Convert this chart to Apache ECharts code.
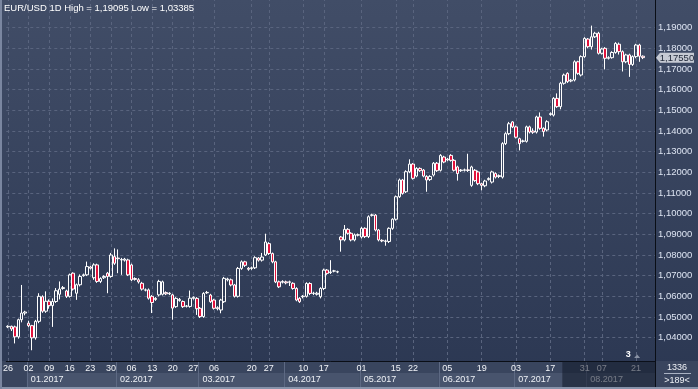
<!DOCTYPE html>
<html><head><meta charset="utf-8">
<script src="https://cdn.jsdelivr.net/npm/echarts@6/dist/echarts.min.js"></script>
<style>html,body{margin:0;padding:0;background:#2e3a55;overflow:hidden}#c{width:698px;height:389px}</style>
</head><body><div id="c"></div>
<script>
// ---- data (EUR/USD daily) ----
const opens = [
1.0452,1.0455,1.0452,1.0404,1.0487,1.0519,1.0470,1.0458,1.0399,1.0479,
1.0598,1.0528,1.0576,1.0555,1.0575,1.0610,1.0638,1.0626,1.0600,1.0712,
1.0615,1.0656,1.0700,1.0704,1.0742,1.0690,1.0752,1.0672,1.0690,1.0712,
1.0696,1.0792,1.0785,1.0776,1.0775,1.0776,1.0752,1.0686,1.0680,1.0663,
1.0630,1.0631,1.0600,1.0585,1.0607,1.0610,1.0618,1.0612,1.0607,1.0550,
1.0580,1.0575,1.0552,1.0551,1.0590,1.0590,1.0542,1.0502,1.0617,1.0606,
1.0582,1.0545,1.0534,1.0574,1.0680,1.0680,1.0655,1.0600,1.0735,1.0767,
1.0736,1.0735,1.0738,1.0785,1.0775,1.0800,1.0855,1.0807,1.0767,1.0670,
1.0668,1.0670,1.0668,1.0663,1.0638,1.0590,1.0598,1.0600,1.0662,1.0614,
1.0610,1.0598,1.0638,1.0727,1.0715,1.0722,1.0718,1.0887,1.0873,1.0924,
1.0905,1.0873,1.0896,1.0887,1.0929,1.0889,1.0992,1.0993,1.0921,1.0871,
1.0868,1.0865,1.0929,1.0973,1.1082,1.1163,1.1106,1.1203,1.1240,1.1182,
1.1219,1.1211,1.1180,1.1165,1.1187,1.1244,1.1210,1.1274,1.1260,1.1282,
1.1258,1.1226,1.1208,1.1210,1.1212,1.1137,1.1210,1.1202,1.1145,1.1135,
1.1165,1.1153,1.1194,1.1180,1.1177,1.1339,1.1387,1.1444,1.1420,1.1363,
1.1350,1.1350,1.1420,1.1400,1.1395,1.1468,1.1413,1.1405,1.1480,1.1477,
1.1558,1.1518,1.1631,1.1679,1.1642,1.1647,1.1735,1.1671,1.1760,1.1845,
1.1808,1.1856,1.1873,1.1776,1.1800,1.1752,1.1755,1.1780,1.1820,1.1784,
1.1735,1.1768,1.1722,1.1760,1.1816,1.1762];
const closes = [
1.0455,1.0442,1.0404,1.0487,1.0519,1.0524,1.0458,1.0399,1.0479,1.0600,
1.0528,1.0576,1.0555,1.0575,1.0627,1.0635,1.0642,1.0600,1.0704,1.0635,
1.0656,1.0696,1.0704,1.0744,1.0736,1.0752,1.0672,1.0686,1.0696,1.0696,
1.0800,1.0760,1.0782,1.0778,1.0780,1.0704,1.0680,1.0682,1.0670,1.0635,
1.0631,1.0591,1.0570,1.0590,1.0672,1.0670,1.0612,1.0615,1.0543,1.0590,
1.0585,1.0550,1.0553,1.0591,1.0595,1.0540,1.0502,1.0614,1.0619,1.0574,
1.0542,1.0540,1.0582,1.0687,1.0684,1.0655,1.0600,1.0735,1.0767,1.0750,
1.0731,1.0738,1.0787,1.0775,1.0790,1.0863,1.0807,1.0767,1.0670,1.0646,
1.0672,1.0665,1.0670,1.0638,1.0582,1.0574,1.0601,1.0662,1.0614,1.0615,
1.0615,1.0638,1.0727,1.0711,1.0718,1.0723,1.0719,1.0873,1.0924,1.0905,
1.0873,1.0897,1.0898,1.0929,1.0889,1.0985,1.0994,1.0921,1.0873,1.0868,
1.0866,1.0929,1.0973,1.1082,1.1163,1.1098,1.1203,1.1240,1.1171,1.1219,
1.1208,1.1182,1.1163,1.1180,1.1244,1.1208,1.1282,1.1250,1.1264,1.1258,
1.1210,1.1194,1.1211,1.1212,1.1209,1.1226,1.1160,1.1145,1.1137,1.1158,
1.1170,1.1202,1.1177,1.1184,1.1339,1.1387,1.1435,1.1420,1.1370,1.1339,
1.1352,1.1420,1.1395,1.1394,1.1468,1.1413,1.1397,1.1445,1.1484,1.1558,
1.1518,1.1631,1.1671,1.1639,1.1646,1.1735,1.1679,1.1760,1.1848,1.1808,
1.1856,1.1873,1.1776,1.1797,1.1752,1.1755,1.1780,1.1824,1.1784,1.1735,
1.1768,1.1722,1.1760,1.1816,1.1762,1.1755];
const lows = [
1.0446,1.0432,1.0372,1.0395,1.0474,1.0508,1.0450,1.0339,1.0390,1.0470,
1.0520,1.0520,1.0540,1.0452,1.0568,1.0585,1.0632,1.0592,1.0594,1.0628,
1.0583,1.0648,1.0695,1.0698,1.0730,1.0680,1.0665,1.0664,1.0684,1.0615,
1.0690,1.0752,1.0712,1.0704,1.0768,1.0698,1.0674,1.0676,1.0662,1.0628,
1.0624,1.0584,1.0519,1.0578,1.0600,1.0604,1.0606,1.0606,1.0487,1.0544,
1.0574,1.0544,1.0546,1.0545,1.0584,1.0510,1.0495,1.0496,1.0612,1.0568,
1.0536,1.0532,1.0518,1.0568,1.0672,1.0648,1.0594,1.0594,1.0728,1.0742,
1.0724,1.0728,1.0732,1.0768,1.0768,1.0795,1.0800,1.0760,1.0664,1.0640,
1.0662,1.0658,1.0650,1.0632,1.0576,1.0568,1.0590,1.0594,1.0606,1.0606,
1.0604,1.0590,1.0630,1.0704,1.0708,1.0716,1.0712,1.0816,1.0866,1.0898,
1.0866,1.0866,1.0890,1.0880,1.0882,1.0882,1.0986,1.0914,1.0866,1.0862,
1.0845,1.0858,1.0922,1.0966,1.1076,1.1092,1.1100,1.1196,1.1165,1.1176,
1.1202,1.1176,1.1106,1.1158,1.1180,1.1202,1.1204,1.1244,1.1254,1.1252,
1.1204,1.1160,1.1202,1.1204,1.1202,1.1130,1.1154,1.1138,1.1113,1.1128,
1.1160,1.1146,1.1170,1.1172,1.1170,1.1332,1.1380,1.1414,1.1364,1.1306,
1.1344,1.1344,1.1388,1.1386,1.1388,1.1406,1.1373,1.1398,1.1474,1.1470,
1.1512,1.1505,1.1624,1.1632,1.1636,1.1640,1.1672,1.1664,1.1754,1.1800,
1.1794,1.1850,1.1770,1.1770,1.1698,1.1746,1.1750,1.1774,1.1770,1.1688,
1.1728,1.1662,1.1715,1.1752,1.1735,1.1748];
const highs = [
1.0460,1.0458,1.0458,1.0492,1.0655,1.0530,1.0482,1.0462,1.0486,1.0615,
1.0605,1.0624,1.0585,1.0590,1.0640,1.0672,1.0650,1.0632,1.0710,1.0716,
1.0662,1.0706,1.0710,1.0768,1.0748,1.0760,1.0758,1.0692,1.0702,1.0718,
1.0810,1.0832,1.0827,1.0786,1.0786,1.0782,1.0758,1.0692,1.0688,1.0670,
1.0638,1.0638,1.0606,1.0596,1.0680,1.0676,1.0624,1.0620,1.0612,1.0596,
1.0592,1.0580,1.0558,1.0628,1.0600,1.0596,1.0548,1.0620,1.0626,1.0612,
1.0588,1.0552,1.0588,1.0694,1.0690,1.0686,1.0660,1.0742,1.0774,1.0772,
1.0742,1.0744,1.0794,1.0790,1.0810,1.0903,1.0862,1.0812,1.0772,1.0676,
1.0678,1.0676,1.0676,1.0668,1.0644,1.0596,1.0606,1.0668,1.0668,1.0622,
1.0622,1.0644,1.0734,1.0732,1.0775,1.0728,1.0724,1.0892,1.0945,1.0930,
1.0910,1.0904,1.0904,1.0936,1.0934,1.0992,1.1000,1.0998,1.0926,1.0876,
1.0874,1.0934,1.0978,1.1088,1.1170,1.1168,1.1210,1.1263,1.1245,1.1225,
1.1224,1.1216,1.1186,1.1186,1.1250,1.1250,1.1288,1.1280,1.1270,1.1288,
1.1264,1.1232,1.1216,1.1218,1.1290,1.1232,1.1216,1.1208,1.1150,1.1164,
1.1176,1.1208,1.1200,1.1190,1.1346,1.1394,1.1444,1.1448,1.1426,1.1368,
1.1358,1.1426,1.1426,1.1413,1.1474,1.1490,1.1418,1.1452,1.1490,1.1564,
1.1582,1.1638,1.1678,1.1684,1.1652,1.1742,1.1740,1.1766,1.1854,1.1850,
1.1910,1.1880,1.1880,1.1803,1.1806,1.1762,1.1786,1.1830,1.1828,1.1790,
1.1774,1.1774,1.1766,1.1822,1.1822,1.1766];

const visibleBars = 189;
const weekTickBars = [0,6,12,18,24,30,36,42,48,54,60,71,76,86,92,103,113,118,128,138,148,158,168,173,183];
const weekTickText = ['26','02','09','16','23','30','06','13','20','27','06','20','27','10','17','01','15','22','05','19','03','17','31','07','21'];
const monthStartBars = [6,32,56,81,103,126,148,169];
const monthText = ['01.2017','02.2017','03.2017','04.2017','05.2017','06.2017','07.2017','08.2017'];
const priceTicks = [1.04,1.05,1.06,1.07,1.08,1.09,1.10,1.11,1.12,1.13,1.14,1.15,1.16,1.17,1.18,1.19];
const titleText = 'EUR/USD 1D High = 1,19095 Low = 1,03385';
const totalBarsText = '1336';
const shownBarsText = '>189<';
const shadedFromBar = 162;

// ---- chart ----
const FONT = '"Liberation Sans", Arial, sans-serif';
const chart = echarts.init(document.getElementById('c'), null, {renderer: 'canvas', width: 698, height: 389});
const categories = Array.from({length: visibleBars}, (_, i) => String(i));
const candles = opens.map((o, i) => [o, closes[i], lows[i], highs[i]]);
const labelAt = {};
weekTickBars.forEach((b, k) => { labelAt[b] = weekTickText[k]; });
const fmt = v => v.toFixed(5).replace('.', ',');

chart.setOption({
  animation: false,
  textStyle: {fontFamily: FONT},
  backgroundColor: {type: 'linear', x: 0, y: 0, x2: 0, y2: 1,
    colorStops: [{offset: 0, color: '#414d67'}, {offset: 1, color: '#2b3752'}]},
  grid: {left: 2, right: 43, top: 0, bottom: 28},
  xAxis: {
    type: 'category', data: categories, boundaryGap: true,
    axisLine: {show: true, lineStyle: {color: '#0a0e16', width: 1}},
    axisTick: {show: false},
    splitLine: {show: false},
    axisLabel: {interval: (i) => (i in labelAt), formatter: (v, i) => labelAt[i] || '',
      color: '#f2f4f8', fontSize: 9, fontFamily: FONT, margin: 3}
  },
  yAxis: {
    type: 'value', position: 'right', min: 1.0287, max: 1.2034, splitNumber: 17,
    axisLine: {show: true, lineStyle: {color: '#0a0e16', width: 1}},
    axisTick: {show: false}, splitLine: {show: false},
    axisLabel: {color: '#dde4f2', fontSize: 9.5, fontFamily: FONT, margin: 3,
      formatter: v => (v > 1.0395 && v < 1.1905) ? fmt(v) : ''}
  },
  series: [
    {type: 'line', data: [], z: 1, silent: true,
      markLine: {silent: true, symbol: 'none', label: {show: false}, animation: false,
        lineStyle: {color: '#59647e', type: [3, 3], width: 1},
        data: priceTicks.map(v => ({yAxis: v})).concat(weekTickBars.map(b => ({xAxis: b})))}},
    {type: 'candlestick', z: 10, data: candles, barWidth: 3,
      itemStyle: {color: 'rgba(0,0,0,0)', color0: '#e2123c', borderColor: '#ffffff', borderColor0: '#ffffff', borderWidth: 1}}
  ]
});

// ---- decorations placed through the axes ----
const px = i => chart.convertToPixel({xAxisIndex: 0}, i);
const band = px(1) - px(0);
const edge = i => px(i) - band / 2;
const axisY = chart.convertToPixel({yAxisIndex: 0}, 1.0287);
const plotRight = edge(visibleBars);
const priceY = chart.convertToPixel({yAxisIndex: 0}, closes[closes.length - 1]);

const g = [];
g.push({type: 'rect', z: -1, shape: {x: 0, y: axisY, width: 698, height: 389 - axisY}, style: {fill: '#39455e'}});
monthStartBars.forEach((b, k) => {
  const x0 = edge(b);
  const x1 = k + 1 < monthStartBars.length ? edge(monthStartBars[k + 1]) : plotRight;
  g.push({type: 'rect', z: -1, shape: {x: x0, y: axisY + 12, width: x1 - x0, height: 14}, style: {fill: '#48546d'}});
  g.push({type: 'line', z: -1, shape: {x1: Math.round(x0) + 0.5, y1: axisY, x2: Math.round(x0) + 0.5, y2: axisY + 26}, style: {stroke: '#5d6983', lineWidth: 1}});
  g.push({type: 'text', z: 1, style: {text: monthText[k], x: x0 + 4, y: axisY + 19, fill: '#eef1f6', font: '9px ' + FONT, verticalAlign: 'middle'}});
});
g.push({type: 'rect', z: 5, shape: {x: edge(shadedFromBar), y: axisY + 0.5, width: plotRight - edge(shadedFromBar), height: 25.5}, style: {fill: 'rgba(16,23,40,0.55)'}});
g.push({type: 'rect', z: 6, shape: {x: 0, y: 387, width: 698, height: 2}, style: {fill: '#8793aa'}});
g.push({type: 'rect', z: 6, shape: {x: 0, y: 0, width: 2, height: 389}, style: {fill: '#7a86a0'}});
g.push({type: 'line', z: 6, shape: {x1: Math.round(plotRight) + 0.5, y1: axisY, x2: Math.round(plotRight) + 0.5, y2: 387}, style: {stroke: '#0a0e16', lineWidth: 1}});
// bars count box
g.push({type: 'text', z: 6, style: {text: totalBarsText, x: 677, y: 367.5, fill: '#eef1f6', font: '9px ' + FONT, align: 'center', verticalAlign: 'middle'}});
g.push({type: 'line', z: 6, shape: {x1: 664, y1: 373.5, x2: 691, y2: 373.5}, style: {stroke: '#a9b2c3', lineWidth: 1}});
g.push({type: 'text', z: 6, style: {text: shownBarsText, x: 677, y: 380.5, fill: '#eef1f6', font: '9px ' + FONT, align: 'center', verticalAlign: 'middle'}});
// current price tag
const tagL = plotRight + 1, tagR = 694;
g.push({type: 'polygon', z: 20, shape: {points: [[tagL, priceY], [tagL + 4, priceY - 5], [tagR, priceY - 5], [tagR, priceY + 5], [tagL + 4, priceY + 5]]}, style: {fill: '#c6cad3'}});
g.push({type: 'text', z: 21, style: {text: fmt(closes[closes.length - 1]), x: (tagL + 4 + tagR) / 2, y: priceY + 0.5, fill: '#1d2536', font: '9.5px ' + FONT, align: 'center', verticalAlign: 'middle'}});
// title
g.push({type: 'text', z: 20, style: {text: titleText, x: 4, y: 8, fill: '#ffffff', font: '9.5px ' + FONT, verticalAlign: 'middle'}});
// small marker "3"
g.push({type: 'text', z: 20, style: {text: '3', x: px(181) - 1, y: axisY - 6, fill: '#ffffff', font: 'bold 9px ' + FONT, verticalAlign: 'middle', align: 'center'}});
g.push({type: 'polygon', z: 20, shape: {points: [[px(183) - 2, axisY - 3], [px(183) + 1, axisY - 6.5], [px(183) + 4, axisY - 3]]}, style: {fill: '#8a93a5'}});

chart.setOption({graphic: {elements: g}});
</script>
</body></html>
